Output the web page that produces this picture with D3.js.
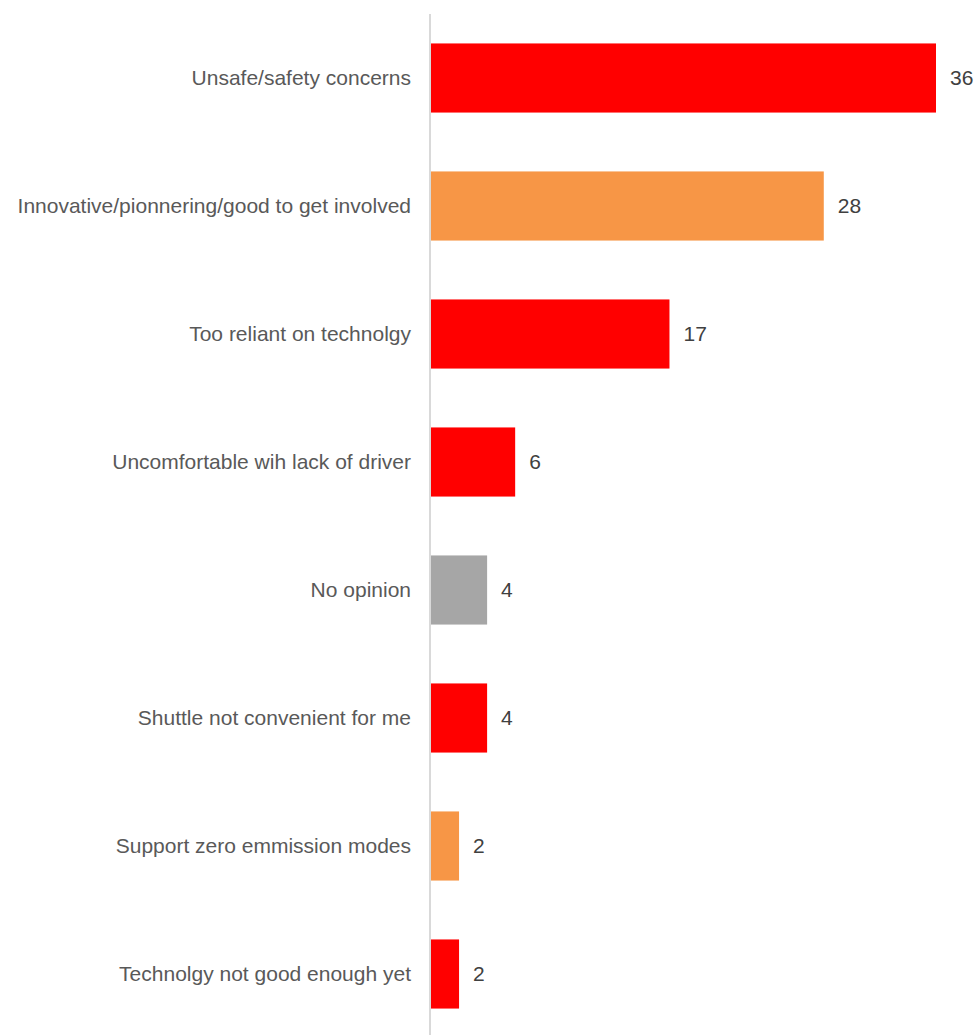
<!DOCTYPE html>
<html>
<head>
<meta charset="utf-8">
<script src="https://cdn.jsdelivr.net/npm/d3@7/dist/d3.min.js"></script>
<style>
  html, body { margin: 0; padding: 0; background: #fff; }
  svg { display: block; }
</style>
</head>
<body>
<svg id="chart" width="978" height="1035"></svg>
<script>
// Reasons given, in display order (top to bottom)
const categories = [
  "Unsafe/safety concerns",
  "Innovative/pionnering/good to get involved",
  "Too reliant on technolgy",
  "Uncomfortable wih lack of driver",
  "No opinion",
  "Shuttle not convenient for me",
  "Support zero emmission modes",
  "Technolgy not good enough yet"
];
const values = [36, 28, 17, 6, 4, 4, 2, 2];
// Sentiment of each reason: negative, positive or neutral
const sentiment = ["neg", "pos", "neg", "neg", "neutral", "neg", "pos", "neg"];

const colours = { neg: "#FF0000", pos: "#F79646", neutral: "#A6A6A6" };
const font = "'Liberation Sans', Arial, sans-serif";

const svg = d3.select("#chart");
const axisX = 431;

const x = d3.scaleLinear()
  .domain([0, d3.max(values)])
  .range([axisX, 936]);

const y = d3.scaleBand()
  .domain(categories)
  .range([14, 1038])
  .paddingInner(0.46)
  .paddingOuter(0.23);

const rows = categories.map((c, i) => ({ c, v: values[i], s: sentiment[i] }));

// Bars
svg.append("g").selectAll("rect")
  .data(rows)
  .join("rect")
  .attr("x", x(0))
  .attr("y", d => y(d.c))
  .attr("width", d => x(d.v) - x(0))
  .attr("height", y.bandwidth())
  .attr("fill", d => colours[d.s]);

// Category axis on the left
const yAxis = svg.append("g")
  .attr("transform", `translate(${axisX - 1},0)`)
  .call(d3.axisLeft(y).tickSize(0).tickPadding(19));
yAxis.select(".domain")
  .attr("d", "M0,14V1035")
  .attr("stroke", "#D9D9D9")
  .attr("stroke-width", 2);
yAxis.selectAll("text")
  .attr("fill", "#595959")
  .style("font-family", font)
  .style("font-size", "21px");

// Value labels at the bar ends
svg.append("g").selectAll("text")
  .data(rows)
  .join("text")
  .attr("x", d => x(d.v) + 14)
  .attr("y", d => y(d.c) + y.bandwidth() / 2)
  .attr("dy", "0.35em")
  .attr("fill", "#404040")
  .style("font-family", font)
  .style("font-size", "21px")
  .text(d => d.v);
</script>
</body>
</html>
